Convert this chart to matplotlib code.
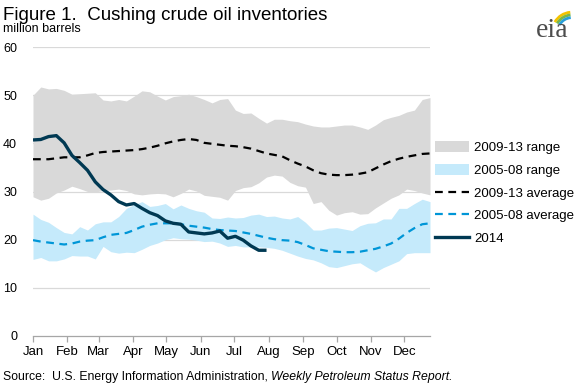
import matplotlib
matplotlib.use("Agg")
import matplotlib.pyplot as plt
import numpy as np
from matplotlib.patches import Patch, Arc
from matplotlib.lines import Line2D

plt.rcParams['font.family'] = ['Liberation Sans', 'DejaVu Sans']

# week start day-of-year for 52 weekly observations
week_day = [1 + 7 * i for i in range(52)]

range0913_hi = [50.0, 51.7, 51.3, 51.4, 51.0, 50.2, 50.3, 50.4, 50.5, 49.0, 48.8, 49.1, 48.8,
                49.8, 50.9, 50.7, 49.8, 49.0, 49.7, 49.9, 50.2, 49.7, 49.1, 48.4, 49.1, 49.3,
                46.9, 46.2, 46.3, 45.2, 44.2, 45.0, 45.0, 44.7, 44.5, 44.0, 43.6, 43.4, 43.4,
                43.6, 43.8, 43.8, 43.4, 42.9, 43.8, 44.9, 45.4, 45.8, 46.5, 46.9, 49.1, 49.5]
range0913_lo = [28.9, 28.2, 28.6, 29.7, 30.3, 31.1, 30.6, 30.0, 29.9, 30.2, 30.3, 30.5, 30.2,
                29.5, 29.3, 29.5, 29.6, 29.5, 28.9, 29.6, 30.5, 30.1, 29.2, 29.0, 28.8, 28.2,
                30.2, 30.8, 31.0, 31.8, 33.0, 33.4, 33.2, 31.9, 31.2, 30.9, 27.5, 27.9, 26.1,
                25.1, 25.6, 25.8, 25.3, 25.4, 26.6, 27.6, 28.6, 29.3, 30.5, 30.2, 29.7, 29.3]
range0508_hi = [25.3, 24.2, 23.6, 22.5, 21.5, 21.2, 22.7, 22.0, 23.3, 23.7, 23.7, 24.8, 26.5,
                27.3, 27.9, 26.9, 27.1, 27.5, 26.4, 27.2, 26.5, 26.0, 25.7, 24.5, 24.4, 24.7,
                24.5, 24.6, 25.1, 25.3, 24.8, 24.9, 24.5, 24.3, 24.8, 23.6, 22.0, 22.0, 22.4,
                22.5, 22.2, 21.9, 22.9, 23.4, 23.5, 24.3, 24.3, 26.5, 26.5, 27.5, 28.4, 27.9]
range0508_lo = [15.9, 16.3, 15.6, 15.6, 16.0, 16.7, 16.6, 16.6, 16.0, 18.6, 17.5, 17.2, 17.4,
                17.3, 18.0, 18.8, 19.3, 20.0, 20.4, 20.2, 20.1, 19.9, 19.6, 19.7, 19.3, 18.6,
                18.8, 18.5, 18.5, 18.5, 18.4, 18.2, 17.8, 17.2, 16.6, 16.1, 15.8, 15.2, 14.4,
                14.2, 14.6, 15.0, 15.2, 14.2, 13.3, 14.2, 14.9, 15.6, 17.1, 17.3, 17.3, 17.3]
avg0913 = [36.7, 36.7, 36.7, 36.9, 37.1, 37.1, 37.1, 37.5, 38.0, 38.2, 38.3, 38.4, 38.5,
           38.6, 38.8, 39.1, 39.5, 40.0, 40.4, 40.7, 40.9, 40.7, 40.1, 39.9, 39.7, 39.5,
           39.4, 39.2, 38.9, 38.4, 37.9, 37.6, 37.3, 36.5, 35.8, 35.2, 34.4, 33.8, 33.5,
           33.4, 33.4, 33.5, 33.7, 34.0, 34.8, 35.6, 36.3, 36.8, 37.2, 37.5, 37.8, 37.9]
avg0508 = [19.9, 19.6, 19.4, 19.2, 19.0, 19.2, 19.6, 19.8, 19.9, 20.5, 21.0, 21.2, 21.4,
           22.0, 22.7, 23.1, 23.4, 23.4, 23.4, 23.2, 22.9, 22.7, 22.5, 22.2, 22.0, 21.9,
           21.8, 21.5, 21.2, 20.8, 20.4, 20.1, 19.9, 19.8, 19.5, 18.9, 18.2, 17.9, 17.6,
           17.5, 17.4, 17.4, 17.5, 17.8, 18.1, 18.6, 19.2, 20.2, 21.4, 22.4, 23.2, 23.4]
stocks2014 = [40.7, 40.8, 41.4, 41.6, 40.1, 37.5, 36.0, 34.4, 32.0, 30.4, 29.3, 27.9, 27.2,
              27.5, 26.5, 25.6, 25.0, 23.9, 23.4, 23.2, 21.6, 21.4, 21.2, 21.4, 21.8, 20.3,
              20.7, 19.9, 18.7, 17.8, 17.8]

month_labels = ['Jan', 'Feb', 'Mar', 'Apr', 'May', 'Jun', 'Jul', 'Aug', 'Sep', 'Oct', 'Nov', 'Dec']
month_start = [1, 32, 60, 91, 121, 152, 182, 213, 244, 274, 305, 335]
y_ticks = [0, 10, 20, 30, 40, 50, 60]

c_grey = '#d9d9d9'
c_lblue = '#c5eafb'
c_blue = '#0096d7'
c_dark = '#003953'
c_grid = '#d9d9d9'
c_axis = '#a6a6a6'

W, H = 579, 387
fig = plt.figure(figsize=(W/100, H/100), dpi=100)
ax = fig.add_axes([33/W, 1-336/H, (430-33)/W, (336-47)/H])

x = np.array(week_day)
ax.fill_between(x, range0913_lo, range0913_hi, color=c_grey, lw=0, zorder=1)
ax.fill_between(x, range0508_lo, range0508_hi, color=c_lblue, lw=0, zorder=2)
ax.plot(x, avg0913, color='black', lw=1.6, dashes=(3.5, 2.5), zorder=3)
ax.plot(x, avg0508, color=c_blue, lw=1.6, dashes=(3.5, 2.5), zorder=3)
ax.plot(x[:len(stocks2014)], stocks2014, color=c_dark, lw=2.4, zorder=4, solid_capstyle='butt')

ax.set_xlim(week_day[0], week_day[-1])
ax.set_ylim(0, 60)
ax.set_yticks(y_ticks)
ax.set_yticklabels([str(v) for v in y_ticks], fontsize=9, color='black')
for v in y_ticks[1:]:
    ax.axhline(v, color=c_grid, lw=0.9, zorder=0)
ax.set_xticks(month_start)
ax.set_xticklabels(month_labels, fontsize=9.5)
ax.tick_params(axis='y', length=0, pad=11.5)
ax.tick_params(axis='x', length=4, color=c_axis, pad=3, width=0.9)
for s in ['left', 'right', 'top']:
    ax.spines[s].set_visible(False)
ax.spines['bottom'].set_color(c_axis)
ax.spines['bottom'].set_linewidth(0.9)
ax.set_facecolor('none')

handles = [Patch(color=c_grey, lw=0), Patch(color=c_lblue, lw=0),
           Line2D([], [], color='black', lw=1.6, dashes=(3.5, 2.5)),
           Line2D([], [], color=c_blue, lw=1.6, dashes=(3.5, 2.5)),
           Line2D([], [], color=c_dark, lw=2.4)]
labels = ['2009-13 range', '2005-08 range', '2009-13 average', '2005-08 average', '2014']
leg = fig.legend(handles, labels, loc='upper left', bbox_to_anchor=(435/W, 1-141/H),
                 frameon=False, fontsize=9.5, handlelength=2.55, handleheight=0.95,
                 handletextpad=0.4, labelspacing=0.72, borderpad=0, borderaxespad=0)

fig.text(3/W, 1-20/H, 'Figure 1.  Cushing crude oil inventories', fontsize=13.5,
         ha='left', va='baseline')
fig.text(3/W, 1-32/H, 'million barrels', fontsize=9, ha='left', va='baseline')

t1 = fig.text(3/W, 1-380/H, 'Source:  U.S. Energy Information Administration, ', fontsize=8.8,
              ha='left', va='baseline')
fig.canvas.draw()
bb = t1.get_window_extent()
fig.text(bb.x1 / W, 1-380/H, 'Weekly Petroleum Status Report.', fontsize=8.8,
         style='italic', ha='left', va='baseline')

# eia logo
fig.text(552/W, 1-37/H, 'eia', fontsize=20, family='Liberation Serif', color='#4d4d4d',
         ha='center', va='baseline')
lax = fig.add_axes([530/W, 1-30/H, 45/W, 25/H])
lax.set_xlim(0, 45); lax.set_ylim(0, 25); lax.axis('off')
for r, col in [(22, '#f2c200'), (19, '#7ab648'), (16, '#2a9fd8')]:
    lax.add_patch(Arc((42, -2), 2*r*0.9, 2*r*0.9, theta1=95, theta2=150, color=col, lw=2))

fig.savefig('out.png', dpi=100)
